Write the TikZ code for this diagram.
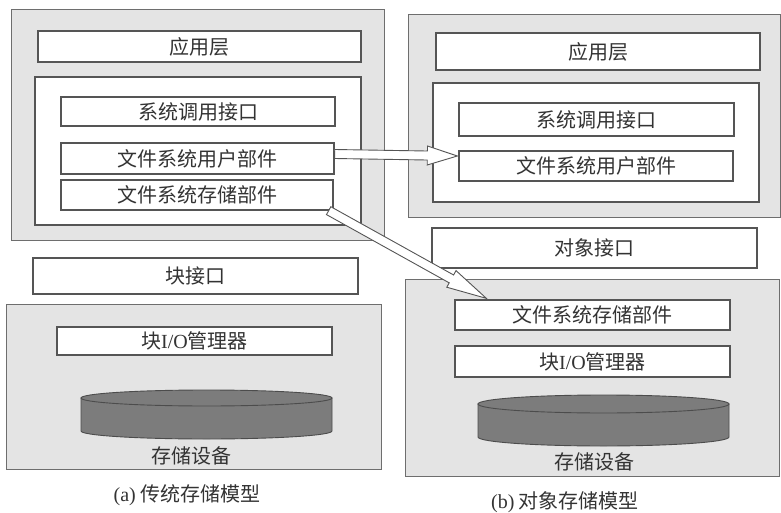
\documentclass[tikz,border=0pt]{standalone}
\usepackage{fontspec}
\newfontfamily\cjk{Noto Sans CJK SC}
\newfontfamily\lat{Liberation Serif}
\usetikzlibrary{calc}
\definecolor{bord}{HTML}{555555}
\definecolor{panel}{HTML}{E4E4E4}
\definecolor{txt}{HTML}{333333}
\definecolor{disk}{HTML}{7C7C7C}
\tikzset{
  panelbox/.style={draw=bord!85, line width=1pt, fill=panel, inner sep=0pt},
  layer/.style={draw=bord, line width=1.3pt, fill=white, inner sep=0pt, text=txt,
    font=\cjk\fontsize{20}{24}\selectfont},
  lbl/.style={text=txt, font=\cjk\fontsize{20}{24}\selectfont, inner sep=0pt},
  diskbody/.style={fill=disk, draw=black!70, line width=0.9pt},
  blockarrow/.style={draw=bord, line width=0.9pt, fill=white, line join=miter,
    to path={
      ($(\tikztotarget)!#1!(\tikztostart)$) coordinate (bah)
      ($(\tikztostart)!4.5pt!90:(\tikztotarget)$)
      -- ($(bah)!4.5pt!90:(\tikztotarget)$)
      -- ($(bah)!9.5pt!90:(\tikztotarget)$)
      -- (\tikztotarget)
      -- ($(bah)!9.5pt!-90:(\tikztotarget)$)
      -- ($(bah)!4.5pt!-90:(\tikztotarget)$)
      -- ($(\tikztostart)!4.5pt!-90:(\tikztotarget)$)
      -- cycle
    }},
  blockarrow/.default=30pt
}
\begin{document}
\begin{tikzpicture}[x=1pt,y=-1pt]
\useasboundingbox (0,0) rectangle (781,513);

% ---------- left: traditional model ----------
\node[panelbox, minimum width=373pt, minimum height=230pt] (outL) at (197.5,125) {};
\node[layer, minimum width=323pt, minimum height=31pt] (appL) at (199.5,46.5) {应用层};
\node[layer, minimum width=326pt, minimum height=148pt] (innL) at (198,151) {};
\node[layer, minimum width=274pt, minimum height=29pt] (sysL) at (198,111.5) {系统调用接口};
\node[layer, minimum width=273pt, minimum height=31pt] (uL) at (197.5,158.5) {文件系统用户部件};
\node[layer, minimum width=272pt, minimum height=30pt] (sL) at (197,195) {文件系统存储部件};
\node[layer, minimum width=325pt, minimum height=36pt] (blkL) at (195.5,276) {块接口};
\node[panelbox, minimum width=375pt, minimum height=165pt] (botL) at (193.5,386.5) {};
\node[layer, minimum width=275pt, minimum height=28pt] (ioL) at (194.5,341) {块{\lat I/O}管理器};
\path[diskbody] (81,398) -- (81,431) arc[start angle=180, end angle=0, x radius=125.5, y radius=8] -- (332,398) -- cycle;
\draw[diskbody] (206.5,398) ellipse [x radius=125.5, y radius=8];
\node[lbl] (devL) at (191.5,456) {存储设备};
\node[lbl] (capL) at (187,495) {{\lat (a)} 传统存储模型};

% ---------- right: object model ----------
\node[panelbox, minimum width=372pt, minimum height=202pt] (outR) at (594,116) {};
\node[layer, minimum width=324pt, minimum height=37pt] (appR) at (598,51.5) {应用层};
\node[layer, minimum width=326pt, minimum height=119pt] (innR) at (596,142.5) {};
\node[layer, minimum width=275pt, minimum height=33pt] (sysR) at (596.5,119.5) {系统调用接口};
\node[layer, minimum width=274pt, minimum height=30pt] (uR) at (596,166) {文件系统用户部件};
\node[layer, minimum width=325pt, minimum height=40pt] (objR) at (594.5,248) {对象接口};
\node[panelbox, minimum width=374pt, minimum height=197pt] (botR) at (592,377.5) {};
\node[layer, minimum width=275pt, minimum height=30pt] (sR) at (592.5,315) {文件系统存储部件};
\node[layer, minimum width=275pt, minimum height=31pt] (ioR) at (592.5,361.5) {块{\lat I/O}管理器};
\path[diskbody] (478,404) -- (478,437) arc[start angle=180, end angle=0, x radius=125.5, y radius=9] -- (729,404) -- cycle;
\draw[diskbody] (603.5,404) ellipse [x radius=125.5, y radius=9];
\node[lbl] (devR) at (594,462) {存储设备};
\node[lbl] (capR) at (565,502) {{\lat (b)} 对象存储模型};

% ---------- migration arrows ----------
\path[blockarrow=30pt] ([yshift=4.5pt]uL.east) to ([xshift=-1pt,yshift=10pt]uR.west);
\path[blockarrow=40pt] ([xshift=-5pt]sL.south east) to ([xshift=32pt,yshift=1pt]sR.north west);
\end{tikzpicture}
\end{document}
